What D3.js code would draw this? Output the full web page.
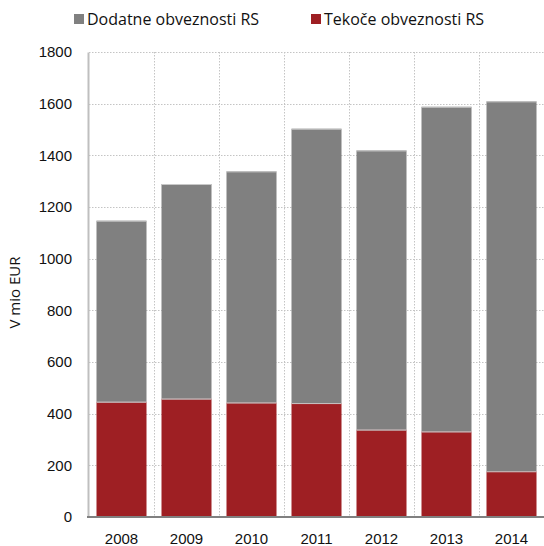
<!DOCTYPE html>
<html>
<head>
<meta charset="utf-8">
<script src="https://cdn.jsdelivr.net/npm/d3@7"></script>
<style>
  body { margin: 0; background: #fff; }
  svg { display: block; font-family: "Open Sans", "Noto Sans", sans-serif; }
</style>
</head>
<body>
<script>
// data
const years = ["2008", "2009", "2010", "2011", "2012", "2013", "2014"];
const tekoce = [446, 458, 443, 441, 338, 331, 177];
const dodatne = [701, 831, 895, 1062, 1081, 1257, 1432];
const yTicks = [0, 200, 400, 600, 800, 1000, 1200, 1400, 1600, 1800];

const seriesNames = ["Tekoče obveznosti RS", "Dodatne obveznosti RS"];
const colors = { "Tekoče obveznosti RS": "#9e1f23", "Dodatne obveznosti RS": "#808080" };

const W = 544, H = 546;
const margin = { top: 52, right: 0, bottom: 29, left: 89 };

const svg = d3.select("body").append("svg").attr("width", W).attr("height", H);

const x = d3.scaleBand().domain(years).range([margin.left, W - margin.right]).paddingInner(15 / 65).paddingOuter(7.5 / 65);
const y = d3.scaleLinear().domain([0, 1800]).range([H - margin.bottom, margin.top]);

// build stack table
const table = years.map((yr, i) => ({ year: yr, "Tekoče obveznosti RS": tekoce[i], "Dodatne obveznosti RS": dodatne[i] }));
const stacked = d3.stack().keys(seriesNames)(table);

// gridlines
const grid = svg.append("g").attr("stroke", "#c4c4c4").attr("stroke-dasharray", "1.5,1.5").attr("stroke-width", 1);
grid.selectAll("line.h").data(yTicks.filter(d => d > 0)).join("line")
  .attr("x1", margin.left).attr("x2", W)
  .attr("y1", d => Math.round(y(d)) + 0.5).attr("y2", d => Math.round(y(d)) + 0.5);
const step = x.step();
const bounds = years.slice(1).map((d, i) => x(d) - x.paddingInner() * step / 2);
grid.selectAll("line.v").data(bounds).join("line")
  .attr("x1", d => Math.round(d) + 0.5).attr("x2", d => Math.round(d) + 0.5)
  .attr("y1", margin.top).attr("y2", H - margin.bottom);

// bars
svg.append("g").selectAll("g").data(stacked).join("g")
  .attr("fill", d => colors[d.key])
  .selectAll("rect").data(d => d).join("rect")
  .attr("x", d => x(d.data.year))
  .attr("width", x.bandwidth())
  .attr("y", d => y(d[1]))
  .attr("height", d => y(d[0]) - y(d[1]));

// thin light edges on top of each segment
svg.append("g").selectAll("g").data(stacked).join("g")
  .selectAll("line").data(d => d).join("line")
  .attr("x1", d => x(d.data.year)).attr("x2", d => x(d.data.year) + x.bandwidth())
  .attr("y1", d => y(d[1]) + 0.5).attr("y2", d => y(d[1]) + 0.5)
  .attr("stroke", "#c8c8c8").attr("stroke-width", 1);

// axes
const yAxis = svg.append("g").attr("transform", `translate(${margin.left - 1},0)`)
  .call(d3.axisLeft(y).tickValues(yTicks).tickSize(0).tickPadding(16).tickFormat(d3.format("d")));
yAxis.select(".domain").attr("stroke", "#bfbfbf").attr("stroke-width", 2);
yAxis.selectAll("text").attr("font-size", 15).attr("fill", "#111");

const xAxis = svg.append("g").attr("transform", `translate(0,${H - margin.bottom})`)
  .call(d3.axisBottom(x).tickSize(0).tickPadding(16));
xAxis.select(".domain").attr("stroke", "#808080").attr("stroke-width", 2).attr("d", `M${margin.left - 2},0H${W}`);
xAxis.selectAll("text").attr("font-size", 15).attr("fill", "#111");

// y label
svg.append("text")
  .attr("transform", `translate(20,${(y(0) + y(1800)) / 2 + 8}) rotate(-90)`)
  .attr("text-anchor", "middle").attr("font-size", 15).attr("fill", "#111")
  .text("V mio EUR");

// legend
const legendItems = [
  { name: "Dodatne obveznosti RS", x: 74 },
  { name: "Tekoče obveznosti RS", x: 311 }
];
const lg = svg.append("g").selectAll("g").data(legendItems).join("g")
  .attr("transform", d => `translate(${d.x},14)`);
lg.append("rect").attr("width", 10).attr("height", 10).attr("fill", d => colors[d.name]);
lg.append("text").attr("x", 13).attr("y", 10.5).attr("font-size", 16).attr("fill", "#111").text(d => d.name);
</script>
</body>
</html>
